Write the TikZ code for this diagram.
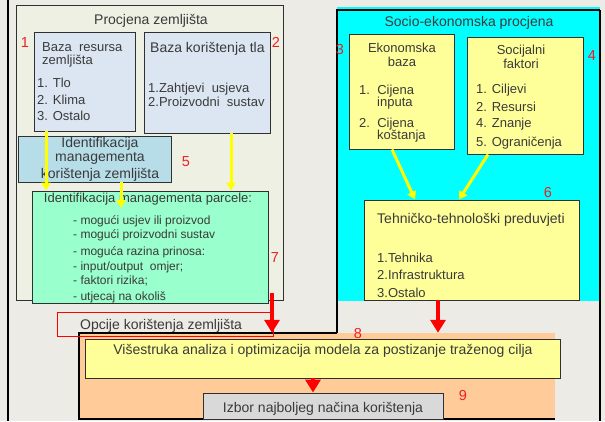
\documentclass[tikz,border=0pt]{standalone}
\usepackage{fontspec}
\setmainfont{Liberation Sans}
\usetikzlibrary{arrows.meta,fit}
\definecolor{bgc}{HTML}{ECEBE6}
\definecolor{panelc}{HTML}{EEF0E4}
\definecolor{bluec}{HTML}{DCE6F2}
\definecolor{lbluec}{HTML}{B7DEE8}
\definecolor{greenc}{HTML}{99FFCC}
\definecolor{cyanc}{HTML}{00FFFF}
\definecolor{yelc}{HTML}{FFFF99}
\definecolor{orangec}{HTML}{FFCC99}
\definecolor{grayc}{HTML}{D9D9D9}
\definecolor{txtc}{HTML}{3A3A3A}
\definecolor{numc}{HTML}{F02020}
\definecolor{arry}{HTML}{FFFF00}
\definecolor{arrr}{HTML}{FF0000}
\definecolor{linec}{HTML}{303030}
\begin{document}
\begin{tikzpicture}[x=1pt,y=-1pt,
 box/.style={draw=linec, line width=0.9pt, inner sep=0pt},
 t/.style={inner sep=0pt, text=txtc, font=\fontsize{14}{16}\selectfont},
 ts/.style={t, font=\fontsize{13}{15}\selectfont},
 tl/.style={t, font=\fontsize{12}{14}\selectfont},
 num/.style={inner sep=0pt, text=numc, font=\fontsize{14.5}{16}\selectfont},
 yarr/.style={draw=arry, line width=3pt, -{Triangle[width=9pt,length=8pt]}},
 rarr/.style={draw=arrr, line width=4pt, -{Triangle[width=15pt,length=13pt]}},
 frame/.style={draw=black, line width=2pt}]
\useasboundingbox (0,0) rectangle (605,421);
\fill[bgc] (0,0) rectangle (605,421);

% panels
\node[box, fill=panelc, fit={(16,5) (283,300)}] (lp) {};
\node[fill=cyanc, inner sep=0pt, fit={(337,7) (600,301)}] (cp) {};
\node[fill=orangec, inner sep=0pt, fit={(79,333) (555,419)}] (op) {};

% frame lines
\draw[frame] (8,0) -- (8,421);
\draw[frame] (600,10) -- (600,421);
\draw[frame] (337,333) -- (337,10) -- (600,10);
\draw[frame] (337,333) -- (79,333) -- (79,419) -- (555,419);

% boxes
\node[box, fill=bluec, fit={(34,32) (135,131)}] (b1) {};
\node[box, fill=bluec, fit={(144,32) (270,133)}] (b2) {};
\node[box, fill=lbluec, fit={(18,136) (171,182)}] (b5) {};
\node[box, fill=greenc, fit={(32,191) (268,303)}] (b7) {};
\node[draw=arrr, line width=0.8pt, inner sep=0pt, fit={(57,312) (273,336)}] (opc) {};
\node[box, fill=yelc, fit={(349,34) (454,149)}] (b3) {};
\node[box, fill=yelc, fit={(467,37) (583,154)}] (b4) {};
\node[box, fill=yelc, fit={(364,200) (579,300)}] (b6) {};
\node[box, fill=yelc, fit={(85,339) (560,378)}] (b8) {};
\node[box, fill=grayc, fit={(203,393) (443,419)}] (b9) {};

% texts: left panel
\node[t, anchor=base] (lpt) at (151,24) {Procjena zemljišta};
\node[ts, anchor=base west] (b1a) at (42,51) {Baza\ \ resursa};
\node[ts, anchor=base west] (b1b) at (42,64) {zemljišta};
\node[ts, anchor=base west] (b1c) at (37,87) {1. Tlo};
\node[ts, anchor=base west] (b1d) at (37,104) {2. Klima};
\node[ts, anchor=base west] (b1e) at (37,120) {3. Ostalo};
\node[t, anchor=base west] (b2a) at (150,52) {Baza korištenja tla};
\node[ts, anchor=base west] (b2b) at (148,92) {1.Zahtjevi\ \ usjeva};
\node[ts, anchor=base west] (b2c) at (148,106) {2.Proizvodni\ \ sustav};
\node[t, anchor=base] (b5a) at (100,147) {Identifikacija};
\node[t, anchor=base] (b5b) at (100,161) {managementa};
\node[t, anchor=base] (b5c) at (100,178) {korištenja zemljišta};
\node[ts, anchor=base] (b7a) at (148,202) {Identifikacija managementa parcele:};
\node[tl, anchor=base west] (b7b) at (73,224) {- mogući usjev ili proizvod};
\node[tl, anchor=base west] (b7c) at (73,238) {- mogući proizvodni sustav};
\node[tl, anchor=base west] (b7d) at (73,255) {- moguća razina prinosa:};
\node[tl, anchor=base west] (b7e) at (73,270) {- input/output\ \ omjer;};
\node[tl, anchor=base west] (b7f) at (73,284) {- faktori rizika;};
\node[tl, anchor=base west] (b7g) at (73,300) {- utjecaj na okoliš};
\node[t, anchor=base west] (opct) at (80,329) {Opcije korištenja zemljišta};

% texts: right panel
\node[t, anchor=base] (cpt) at (469,26) {Socio-ekonomska procjena};
\node[ts, anchor=base] (b3a) at (402,52) {Ekonomska};
\node[ts, anchor=base] (b3b) at (402,66) {baza};
\node[ts, anchor=base west] (b3c) at (359,94) {1.\ \ Cijena};
\node[ts, anchor=base west] (b3d) at (377,106) {inputa};
\node[ts, anchor=base west] (b3e) at (359,127) {2.\ \ Cijena};
\node[ts, anchor=base west] (b3f) at (377,139) {koštanja};
\node[ts, anchor=base] (b4a) at (521,54) {Socijalni};
\node[ts, anchor=base] (b4b) at (521,68) {faktori};
\node[ts, anchor=base west] (b4c) at (476,93) {1. Ciljevi};
\node[ts, anchor=base west] (b4d) at (476,111) {2. Resursi};
\node[ts, anchor=base west] (b4e) at (476,127) {4. Znanje};
\node[ts, anchor=base west] (b4f) at (476,146) {5. Ograničenja};
\node[t, anchor=base west] (b6a) at (377,223) {Tehničko-tehnološki preduvjeti};
\node[ts, anchor=base west] (b6b) at (377,262) {1.Tehnika};
\node[ts, anchor=base west] (b6c) at (377,279) {2.Infrastruktura};
\node[ts, anchor=base west] (b6d) at (377,297) {3.Ostalo};

% bottom texts
\node[t, anchor=base] (b8a) at (323,354) {Višestruka analiza i optimizacija modela za postizanje traženog cilja};
\node[t, anchor=base] (b9a) at (323,412) {Izbor najboljeg načina korištenja};

% numbers
\node[num, anchor=base] (n1) at (25,47) {1};
\node[num, anchor=base] (n2) at (276,47) {2};
\node[num, anchor=base] (n3) at (340,54) {3};
\node[num, anchor=base] (n4) at (592,60) {4};
\node[num, anchor=base] (n5) at (186,166) {5};
\node[num, anchor=base] (n6) at (548,197) {6};
\node[num, anchor=base] (n7) at (275,262) {7};
\node[num, anchor=base] (n8) at (358,338) {8};
\node[num, anchor=base] (n9) at (463,400) {9};

% connector coordinates
\coordinate (ya) at (46,0);
\coordinate (yb) at (231,0);
\coordinate (yc) at (121,208);
\coordinate (d3s) at (392,0);
\coordinate (d3e) at (415,0);
\coordinate (d4s) at (488,0);
\coordinate (d4e) at (459,0);
\coordinate (r1s) at (272,293);
\coordinate (r2) at (438,0);
\coordinate (r3) at (313,0);

% yellow arrows
\draw[yarr] (b1.south -| ya) -- (b7.north -| ya);
\draw[yarr] (b2.south -| yb) -- (b7.north -| yb);
\draw[yarr] (b5.south -| yc) -- (yc);
\draw[yarr] (b3.south -| d3s) -- (b6.north -| d3e);
\draw[yarr] (b4.south -| d4s) -- (b6.north -| d4e);

% red arrows
\draw[rarr] (r1s) -- (op.north -| r1s);
\draw[rarr] (b6.south -| r2) -- (op.north -| r2);
\draw[rarr] (b8.south -| r3) -- (b9.north -| r3);
\end{tikzpicture}
\end{document}
